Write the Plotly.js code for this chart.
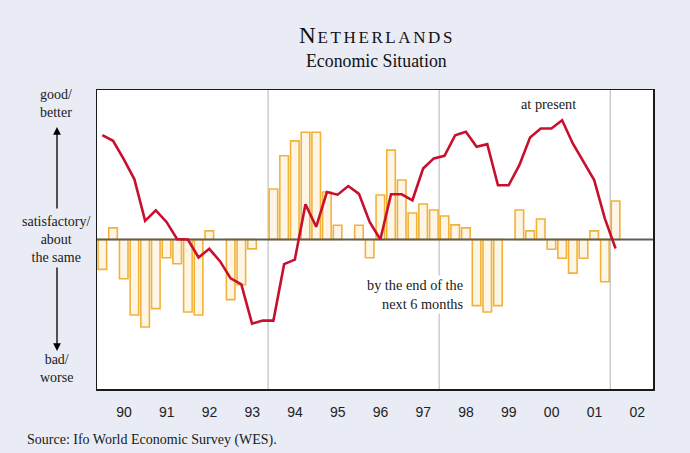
<!DOCTYPE html>
<html>
<head>
<meta charset="utf-8">
<script src="https://cdn.plot.ly/plotly-3.0.1.min.js"></script>
<style>
html,body{margin:0;padding:0;background:#E9EBF5;}
#chart{width:690px;height:453px;}
</style>
</head>
<body>
<div id="chart"></div>
<script>
// ---- Data (WES scale 1..9, 5 = satisfactory / about the same), quarterly 1990Q1 .. 2002Q1
const startYear = 1990;
const yearLabels = ["90","91","92","93","94","95","96","97","98","99","00","01","02"];
const presentSituation = [
  7.79, 7.64, 7.15, 6.61,
  5.50, 5.78, 5.47, 5.01,
  5.00, 4.52, 4.75, 4.42,
  3.96, 3.80, 2.75, 2.83,
  2.83, 4.34, 4.46, 5.94,
  5.34, 6.27, 6.20, 6.43,
  6.22, 5.47, 5.00, 6.21,
  6.21, 6.05, 6.90, 7.17,
  7.24, 7.79, 7.88, 7.48,
  7.55, 6.45, 6.45, 6.99,
  7.73, 7.97, 7.97, 8.19,
  7.57, 7.07, 6.59, 5.56,
  4.76
];
const expectations6m = [
  4.20, 5.31, 3.95, 2.98,
  2.66, 3.15, 4.51, 4.35,
  3.06, 2.98, 5.23, null,
  3.39, 3.79, 4.75, null,
  6.35, 7.24, 7.64, 7.87,
  7.87, 6.27, 5.38, null,
  5.38, 4.51, 6.19, 7.39,
  6.59, 5.71, 5.95, 5.79,
  5.63, 5.39, 5.31, 3.23,
  3.06, 3.23, null, 5.79,
  5.23, 5.55, 4.74, 4.50,
  4.10, 4.50, 5.23, 3.87,
  6.03
];
const BASE = 5;           // satisfactory / about the same
const Y_MIN = 1, Y_MAX = 9;

// ---- positions derived from the data index
const xQ = presentSituation.map((_, i) => startYear + 0.125 + 0.25 * i);
const xEnd = startYear + yearLabels.length;
const labelPos = yearLabels.map((_, i) => startYear + i + 0.63);
const tickPos = yearLabels.slice(1).map((_, i) => startYear + i + 1);
const sepYears = [1994, 1998, 2002];

const serif = "Liberation Serif, Times New Roman, serif";
const sans = "Liberation Sans, Arial, sans-serif";

const traces = [
  {
    type: "bar",
    x: xQ,
    y: expectations6m.map(v => v === null ? null : v - BASE),
    base: BASE,
    width: 0.2,
    marker: {color: "#FDF6E7", line: {color: "#F2B23A", width: 1.6}},
    hoverinfo: "skip",
    showlegend: false
  },
  {
    type: "scatter",
    mode: "lines",
    x: [startYear, xEnd],
    y: [BASE, BASE],
    line: {color: "#5E5E58", width: 2},
    hoverinfo: "skip",
    showlegend: false
  },
  {
    type: "scatter",
    mode: "lines",
    x: xQ,
    y: presentSituation,
    line: {color: "#C8102E", width: 2.6},
    showlegend: false
  }
];

const shapes = sepYears.map(yr => ({
  type: "line", xref: "x", yref: "paper", x0: yr, x1: yr, y0: 0, y1: 1,
  line: {color: "#B4B4B4", width: 1}, layer: "below"
}));

const L = 97, R = 37, T = 90, B = 64, W = 690, H = 453;
const pw = W - L - R, ph = H - T - B;
const px = v => (v - L) / pw;
const py = v => (H - B - v) / ph;

const leftFont = {family: serif, size: 14, color: "#1a1a1a"};
const annotations = [
  {xref: "paper", yref: "paper", x: px(376), y: py(61), text: "Economic Situation",
   showarrow: false, xanchor: "center", yanchor: "middle", font: {family: serif, size: 17.8, color: "#111"}},
  {xref: "paper", yref: "paper", x: px(56), y: py(104), text: "good/<br>better",
   showarrow: false, xanchor: "center", yanchor: "middle", font: leftFont},
  {xref: "paper", yref: "paper", x: px(56), y: py(239), text: "satisfactory/<br>about<br>the same",
   showarrow: false, xanchor: "center", yanchor: "middle", font: leftFont},
  {xref: "paper", yref: "paper", x: px(56), y: py(368), text: "bad/<br>worse",
   showarrow: false, xanchor: "center", yanchor: "middle", font: leftFont},
  {xref: "paper", yref: "paper", x: px(57), y: py(127), text: "", showarrow: true,
   ax: 0, ay: 83, arrowhead: 2, arrowsize: 1.2, arrowwidth: 1.3, arrowcolor: "#000"},
  {xref: "paper", yref: "paper", x: px(57), y: py(351), text: "", showarrow: true,
   ax: 0, ay: -85, arrowhead: 2, arrowsize: 1.2, arrowwidth: 1.3, arrowcolor: "#000"},
  {xref: "paper", yref: "paper", x: px(548), y: py(104), text: "at present",
   showarrow: false, xanchor: "center", yanchor: "middle", bgcolor: "#fff",
   font: {family: serif, size: 14.3, color: "#1a1a1a"}},
  {xref: "paper", yref: "paper", x: px(466), y: py(294), text: "by the end of the<br>next 6 months",
   showarrow: false, xanchor: "right", yanchor: "middle", align: "right", bgcolor: "#fff",
   font: {family: serif, size: 14.3, color: "#1a1a1a"}},
  {xref: "paper", yref: "paper", x: px(25), y: py(440), text: "Source: Ifo World Economic Survey (WES).",
   showarrow: false, xanchor: "left", yanchor: "middle", font: {family: serif, size: 14, color: "#1a1a1a"}}
];

const layout = {
  width: W, height: H,
  margin: {l: L, r: R, t: T, b: B, pad: 0},
  paper_bgcolor: "#E9EBF5",
  plot_bgcolor: "#FFFFFF",
  title: {
    text: "<span style='letter-spacing:2px'>N</span><span style='font-size:17px;letter-spacing:2.6px'>ETHERLANDS</span>",
    font: {family: serif, size: 23, color: "#111"},
    x: 377 / W, xanchor: "center", xref: "container",
    y: 1 - 35 / H, yanchor: "middle", yref: "container"
  },
  xaxis: {
    range: [startYear, xEnd], fixedrange: true,
    tickmode: "array", tickvals: labelPos, ticktext: yearLabels,
    ticks: "", showgrid: false, zeroline: false,
    showline: true, mirror: true, linecolor: "#1a1a1a", linewidth: 1.5,
    tickfont: {family: sans, size: 14, color: "#222"},
    ticklabelstandoff: 10
  },
  xaxis2: {
    range: [startYear, xEnd], overlaying: "x", anchor: "y", side: "bottom",
    tickmode: "array", tickvals: tickPos, ticks: "inside", ticklen: 4, tickwidth: 1,
    tickcolor: "#222", showticklabels: false, showgrid: false, zeroline: false, showline: false
  },
  yaxis: {
    range: [Y_MIN, Y_MAX], fixedrange: true,
    showticklabels: false, ticks: "", showgrid: false, zeroline: false,
    showline: true, mirror: true, linecolor: "#1a1a1a", linewidth: 1.5
  },
  bargap: 0,
  shapes: shapes,
  annotations: annotations,
  showlegend: false
};

Plotly.newPlot("chart", traces, layout, {displayModeBar: false, staticPlot: true});
</script>
</body>
</html>
